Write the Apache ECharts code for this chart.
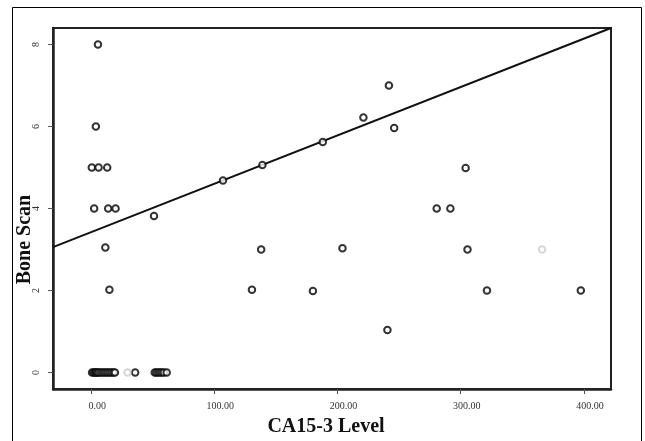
<!DOCTYPE html>
<html>
<head>
<meta charset="utf-8">
<title>Bone Scan vs CA15-3 Level</title>
<script src="https://cdn.jsdelivr.net/npm/echarts@6/dist/echarts.min.js"></script>
<style>
  html, body { margin: 0; padding: 0; background: #fff; }
  #chart { width: 645px; height: 441px; }
</style>
</head>
<body>
<div id="chart"></div>
<script>
// CA15-3 level (x) and bone scan score (y), one entry per patient
const caLevel = [
  5.5, 3.8,
  0.5, 6, 13,
  2.4, 13.8, 19.8,
  51, 11.5, 14.8,
  130.5, 138, 180, 204, 221, 241.7, 246, 240.5,
  280.5, 291.6, 304, 305.5, 321.3, 397.5,
  107, 139, 188,
  0.7, 2, 3, 4, 5, 6, 7.5, 9, 10.5, 12, 13.5, 15, 16.5, 18, 19.3,
  35.7,
  51.6, 53, 54.5, 56, 57.5, 59, 61.3
];
const boneScan = [
  8, 6,
  5, 5, 5,
  4, 4, 4,
  3.82, 3.05, 2.02,
  2.02, 3, 1.99, 3.03, 6.22, 7, 5.96, 1.04,
  4, 4, 4.99, 3, 2, 2,
  4.68, 5.06, 5.62,
  0, 0, 0, 0, 0, 0, 0, 0, 0, 0, 0, 0, 0, 0, 0,
  0,
  0, 0, 0, 0, 0, 0, 0
];

// points printed very faintly in the original
const faintX = [29.5, 366];
const faintY = [0, 3];

// fit line end points
const fitX = [-31, 422];
const fitY = [3.06, 8.4];

const xTicks = [0, 100, 200, 300, 400];
const yTicks = [0, 2, 4, 6, 8];

const serif = '"Liberation Serif", "DejaVu Serif", serif';

function pairs(xs, ys) {
  return xs.map((x, i) => [x, ys[i]]);
}

let chart = echarts.init(document.getElementById('chart'));
chart.setOption({
  animation: false,
  backgroundColor: '#fff',
  grid: {
    left: 53,
    right: 34,
    top: 28,
    bottom: 52,
    outerBoundsMode: 'none',
    show: true,
    borderColor: '#222',
    borderWidth: 2
  },
  graphic: [{
    type: 'rect',
    shape: { x: 12.5, y: 7.5, width: 629, height: 445 },
    style: { fill: 'none', stroke: '#000', lineWidth: 1 },
    silent: true
  }],
  xAxis: {
    type: 'value',
    min: -31,
    max: 422,
    name: 'CA15-3 Level',
    nameLocation: 'middle',
    nameGap: 28,
    nameMoveOverlap: false,
    nameTextStyle: { fontFamily: serif, fontWeight: 'bold', fontSize: 20, color: '#111', padding: [0, 12, 0, 0] },
    splitLine: { show: false },
    axisLine: { show: true, onZero: false, lineStyle: { color: '#222', width: 2.5 } },
    axisTick: { show: true, length: 5, customValues: xTicks, lineStyle: { color: '#555' } },
    axisLabel: {
      customValues: xTicks,
      margin: 12,
      fontFamily: serif,
      fontSize: 10,
      color: '#333',
      formatter: v => '{a|' + v.toFixed(2) + '}',
      rich: { a: { fontFamily: serif, fontSize: 10, color: '#333', padding: [0, 0, 0, 12] } }
    }
  },
  yAxis: {
    type: 'value',
    min: -0.4,
    max: 8.4,
    name: 'Bone Scan',
    nameLocation: 'middle',
    nameGap: 18,
    nameMoveOverlap: false,
    nameTextStyle: { fontFamily: serif, fontWeight: 'bold', fontSize: 20, color: '#111', padding: [0, 62, 0, 0] },
    splitLine: { show: false },
    axisLine: { show: true, onZero: false, lineStyle: { color: '#222', width: 2.5 } },
    axisTick: { show: true, length: 5, customValues: yTicks, lineStyle: { color: '#555' } },
    axisLabel: {
      customValues: yTicks,
      rotate: 90,
      margin: 12,
      fontFamily: serif,
      fontSize: 10,
      color: '#333'
    }
  },
  series: [
    {
      name: 'Fit',
      type: 'line',
      data: pairs(fitX, fitY),
      symbol: 'none',
      lineStyle: { color: '#111', width: 2 },
      z: 3
    },
    {
      name: 'Patients',
      type: 'scatter',
      data: pairs(caLevel, boneScan),
      symbol: 'emptyCircle',
      symbolSize: 6.5,
      itemStyle: { color: '#000', borderColor: '#000', borderWidth: 2.2 },
      z: 4
    },
    {
      name: 'Faint',
      type: 'scatter',
      data: pairs(faintX, faintY),
      symbol: 'emptyCircle',
      symbolSize: 6.5,
      itemStyle: { color: '#ccc', borderColor: '#ccc', borderWidth: 1.5 },
      z: 4
    }
  ]
});
</script>
</body>
</html>
